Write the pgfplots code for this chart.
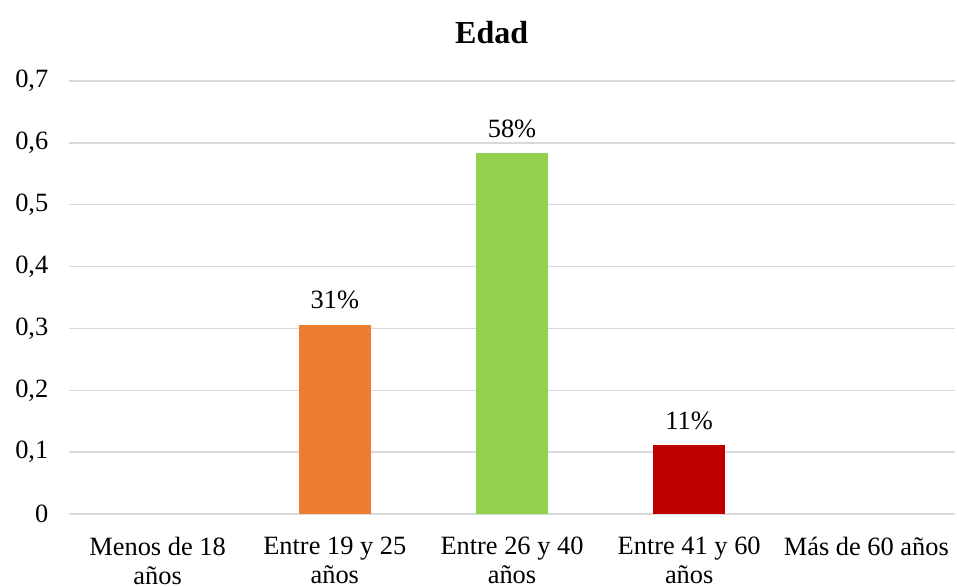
\documentclass[border=0pt]{standalone}
\usepackage{pgfplots}
\pgfplotsset{compat=1.18}
\usepackage{fontspec}
\setmainfont{Liberation Serif}

\definecolor{barorange}{RGB}{237,125,49}
\definecolor{bargreen}{RGB}{146,208,80}
\definecolor{barred}{RGB}{192,0,0}
\definecolor{gridgray}{RGB}{217,217,217}

\begin{document}
\begin{tikzpicture}
\path[use as bounding box] (-51.75pt,-54pt) rectangle (666pt,385.5pt);
\begin{axis}[
  scale only axis,
  clip=false,
  width=664.5pt, height=324.75pt,
  ymin=0, ymax=0.7,
  ytick={0,0.1,...,0.7},
  xmin=-0.5, xmax=4.5,
  xtick={0,1,2,3,4},
  xticklabels={Menos de 18\\años, Entre 19 y 25\\años, Entre 26 y 40\\años, Entre 41 y 60\\años, Más de 60 años},
  xticklabel style={align=center, font=\fontsize{19.8}{21.5}\selectfont, yshift=-14pt},
  yticklabel style={font=\fontsize{19.8}{22}\selectfont, xshift=-12pt},
  /pgf/number format/.cd, use comma, fixed, precision=1, assume math mode=true,
  /pgfplots/.cd,
  axis line style={draw=none},
  major tick length=0pt,
  ymajorgrids,
  grid style={gridgray, line width=1pt},
  ybar, bar width=54pt,
  point meta=explicit symbolic,
  nodes near coords,
  every node near coord/.append style={font=\fontsize{19.8}{22}\selectfont, yshift=8pt},
]
\addplot[fill=barorange, draw=none, bar shift=0pt] coordinates {(1,0.306) [31\%]};
\addplot[fill=bargreen, draw=none, bar shift=0pt] coordinates {(2,0.583) [58\%]};
\addplot[fill=barred, draw=none, bar shift=0pt] coordinates {(3,0.111) [11\%]};
\node[font=\bfseries\fontsize{24}{26}\selectfont] at ([yshift=36.5pt]rel axis cs:0.477,1) {Edad};
\end{axis}
\end{tikzpicture}
\end{document}
